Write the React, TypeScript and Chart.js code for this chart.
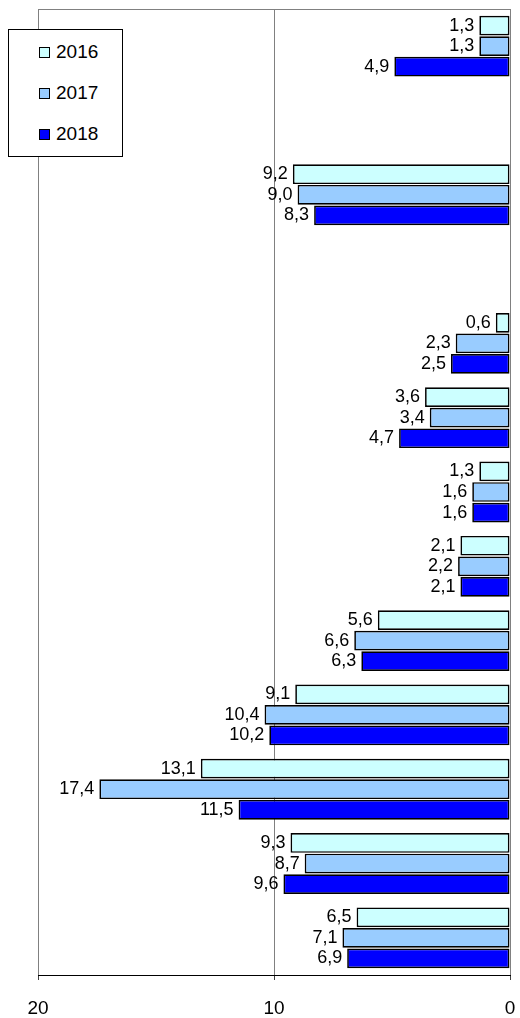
import React, { useEffect, useRef } from "react";
import { Chart, registerables } from "chart.js";

Chart.register(...registerables);

const categories = ["", "", "", "", "", "", "", "", "", "", "", "", ""];
const seriesNames = ["2016", "2017", "2018"];
const values2016 = [1.3, null, 9.2, null, 0.6, 3.6, 1.3, 2.1, 5.6, 9.1, 13.1, 9.3, 6.5];
const values2017 = [1.3, null, 9.0, null, 2.3, 3.4, 1.6, 2.2, 6.6, 10.4, 17.4, 8.7, 7.1];
const values2018 = [4.9, null, 8.3, null, 2.5, 4.7, 1.6, 2.1, 6.3, 10.2, 11.5, 9.6, 6.9];
const seriesColors = ["#CCFFFF", "#99CCFF", "#0000FF"];
const xTicks = [0, 10, 20];

const FONT = "Arial, 'Liberation Sans', sans-serif";

const labelPlugin = {
  id: "valueLabels",
  afterDatasetsDraw(chart: any) {
    const ctx = chart.ctx;
    ctx.save();
    ctx.font = `18px ${FONT}`;
    ctx.fillStyle = "#000";
    ctx.textAlign = "right";
    ctx.textBaseline = "middle";
    chart.data.datasets.forEach((ds: any, i: number) => {
      const meta = chart.getDatasetMeta(i);
      meta.data.forEach((bar: any, j: number) => {
        const v = ds.data[j];
        if (v === null || v === undefined) return;
        ctx.fillText(v.toFixed(1).replace(".", ","), bar.x - 5, bar.y);
      });
    });
    ctx.restore();
  },
};

const framePlugin = {
  id: "frame",
  beforeDatasetsDraw(chart: any) {
    const { ctx, chartArea } = chart;
    ctx.save();
    ctx.strokeStyle = "#808080";
    ctx.lineWidth = 1;
    ctx.beginPath();
    ctx.moveTo(chartArea.left, chartArea.top + 0.5);
    ctx.lineTo(chartArea.right, chartArea.top + 0.5);
    ctx.stroke();
    ctx.restore();
  },
};

export default function App() {
  const ref = useRef<HTMLCanvasElement>(null);
  useEffect(() => {
    if (!ref.current) return;
    const datas = [values2016, values2017, values2018];
    const chart = new Chart(ref.current, {
      type: "bar",
      data: {
        labels: categories,
        datasets: seriesNames.map((name, i) => ({
          label: name,
          data: datas[i] as any,
          backgroundColor: seriesColors[i],
          borderColor: "#000",
          borderWidth: 1.7,
          borderSkipped: false,
          categoryPercentage: 0.83,
          barPercentage: 0.96,
        })),
      },
      options: {
        indexAxis: "y",
        animation: false,
        responsive: false,
        layout: { padding: { left: 38, right: 10, top: 9, bottom: 0 } },
        plugins: { legend: { display: false }, tooltip: { enabled: false } },
        scales: {
          x: {
            reverse: true,
            min: 0,
            max: 20,
            afterBuildTicks(scale: any) {
              scale.ticks = xTicks.map((v) => ({ value: v }));
            },
            afterFit(scale: any) {
              scale.height = 43;
            },
            ticks: {
              font: { family: FONT, size: 19 },
              color: "#000",
              padding: 17,
              maxRotation: 0,
            },
            grid: { color: "#808080", lineWidth: 1, tickLength: 5, tickColor: "#404040" },
            border: { color: "#000", width: 1 },
          },
          y: { display: false },
        },
      },
      plugins: [labelPlugin, framePlugin],
    });
    return () => chart.destroy();
  }, []);

  return (
    <div style={{ position: "absolute", left: 0, top: 0, width: 520, height: 1018 }}>
      <canvas ref={ref} width={520} height={1018} style={{ display: "block" }} />
      <div
        style={{
          position: "absolute",
          left: 8,
          top: 29,
          width: 113,
          height: 126,
          border: "1px solid #000",
          background: "#fff",
          fontFamily: FONT,
          fontSize: 19,
        }}
      >
        {seriesNames.map((name, i) => (
          <div
            key={name}
            style={{
              position: "absolute",
              left: 30,
              top: 11 + i * 41,
              height: 22,
              display: "flex",
              alignItems: "center",
            }}
          >
            <span
              style={{
                display: "inline-block",
                width: 9,
                height: 9,
                border: "1px solid #000",
                background: seriesColors[i],
                marginRight: 6,
              }}
            />
            <span>{name}</span>
          </div>
        ))}
      </div>
    </div>
  );
}
